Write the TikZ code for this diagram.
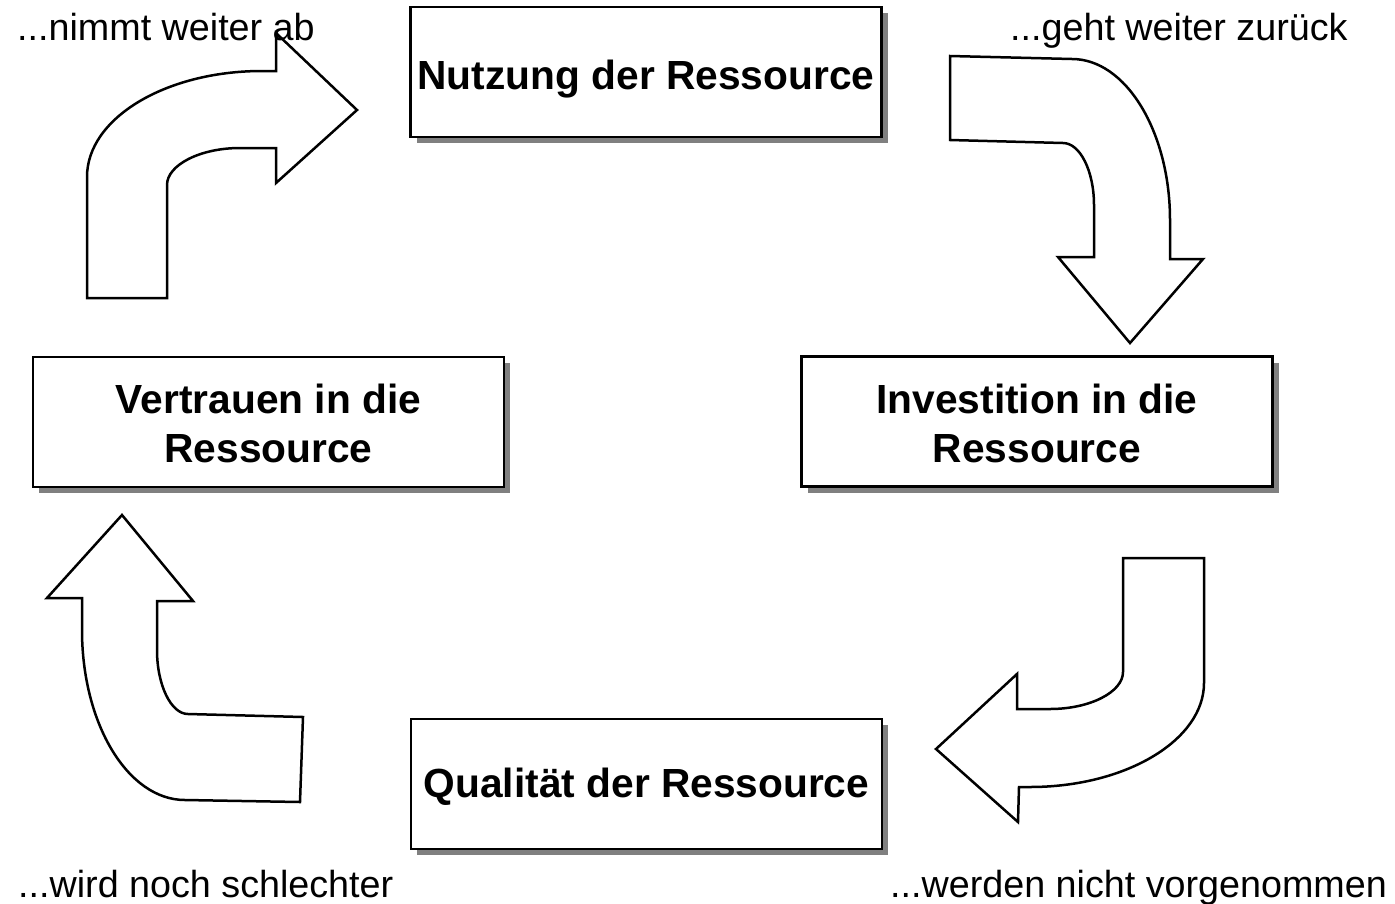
\documentclass[tikz,border=0pt]{standalone}
\usepackage{fontspec}
\setmainfont{Liberation Sans}
\usetikzlibrary{shadows}
\definecolor{shadowgray}{RGB}{128,128,128}
\tikzset{
  box/.style={draw, line width=2.5pt, fill=white, inner sep=0pt,
    minimum width=471pt, minimum height=130pt,
    drop shadow={shadow xshift=6pt, shadow yshift=-6pt, fill=shadowgray, opacity=1}},
  boxtxt/.style={anchor=base, inner sep=0pt, font=\fontsize{40.7}{49}\selectfont\bfseries},
  lbl/.style={anchor=base west, inner sep=0pt, font=\fontsize{37.7}{45}\selectfont},
  bentarrow/.style={draw, line width=2.5pt, fill=white, line join=miter}
}
\begin{document}
\begin{tikzpicture}[x=1pt,y=-1pt]
\useasboundingbox (0,0) rectangle (1395,903);

% boxes
\node[box] (nutz) at (646,72) {};
\node[box] (inv) at (1037,421.5) {};
\node[box] (vert) at (268.5,422) {};
\node[box] (qual) at (646.5,784) {};

\node[boxtxt] (nutzT) at (nutz.center |- 0,89) {Nutzung der Ressource};
\node[boxtxt] (invT1) at (inv.center |- 0,413) {Investition in die};
\node[boxtxt] (invT2) at (inv.center |- 0,462) {Ressource};
\node[boxtxt] (vertT1) at (vert.center |- 0,413) {Vertrauen in die};
\node[boxtxt] (vertT2) at (vert.center |- 0,462) {Ressource};
\node[boxtxt] (qualT) at (qual.center |- 0,797) {Qualität der Ressource};

% arrow top left
\draw[bentarrow] (87,298) -- (87,177) .. controls (87,118) and (166,71) .. (262,71)
  -- (276,71) -- (276,33) -- (357,110) -- (276,183) -- (276,148) -- (240,148)
  .. controls (200,148) and (167,165) .. (167,185) -- (167,298) -- cycle;

% arrow top right
\draw[bentarrow] (950,56) -- (1072,59) .. controls (1126,59) and (1170,132) .. (1170,220)
  -- (1170,259) -- (1203,259) -- (1130,343) -- (1058,257) -- (1094,257) -- (1094,205)
  .. controls (1094,171) and (1080,143) .. (1063,143) -- (950,140) -- cycle;

% arrow bottom right
\draw[bentarrow] (1123,558) -- (1204,558) -- (1204,683) .. controls (1204,740) and (1126,787) .. (1030,787)
  -- (1019,787) -- (1018,822) -- (936,749) -- (1017,674) -- (1017,709) -- (1050,709)
  .. controls (1090,709) and (1123,692) .. (1123,672) -- cycle;

% arrow bottom left
\draw[bentarrow] (122,515) -- (193,601) -- (157,601) -- (157,650)
  .. controls (157,685) and (171,714) .. (188,714) -- (303,717) -- (300,802) -- (185,800)
  .. controls (128,800) and (82,724) .. (82,630) -- (82,598) -- (47,598) -- cycle;

% labels
\node[lbl] (l1) at (17,40) {...nimmt weiter ab};
\node[lbl] (l2) at (1010,40) {...geht weiter zurück};
\node[lbl] (l3) at (18,897) {...wird noch schlechter};
\node[lbl] (l4) at (890,897) {...werden nicht vorgenommen};
\end{tikzpicture}
\end{document}
